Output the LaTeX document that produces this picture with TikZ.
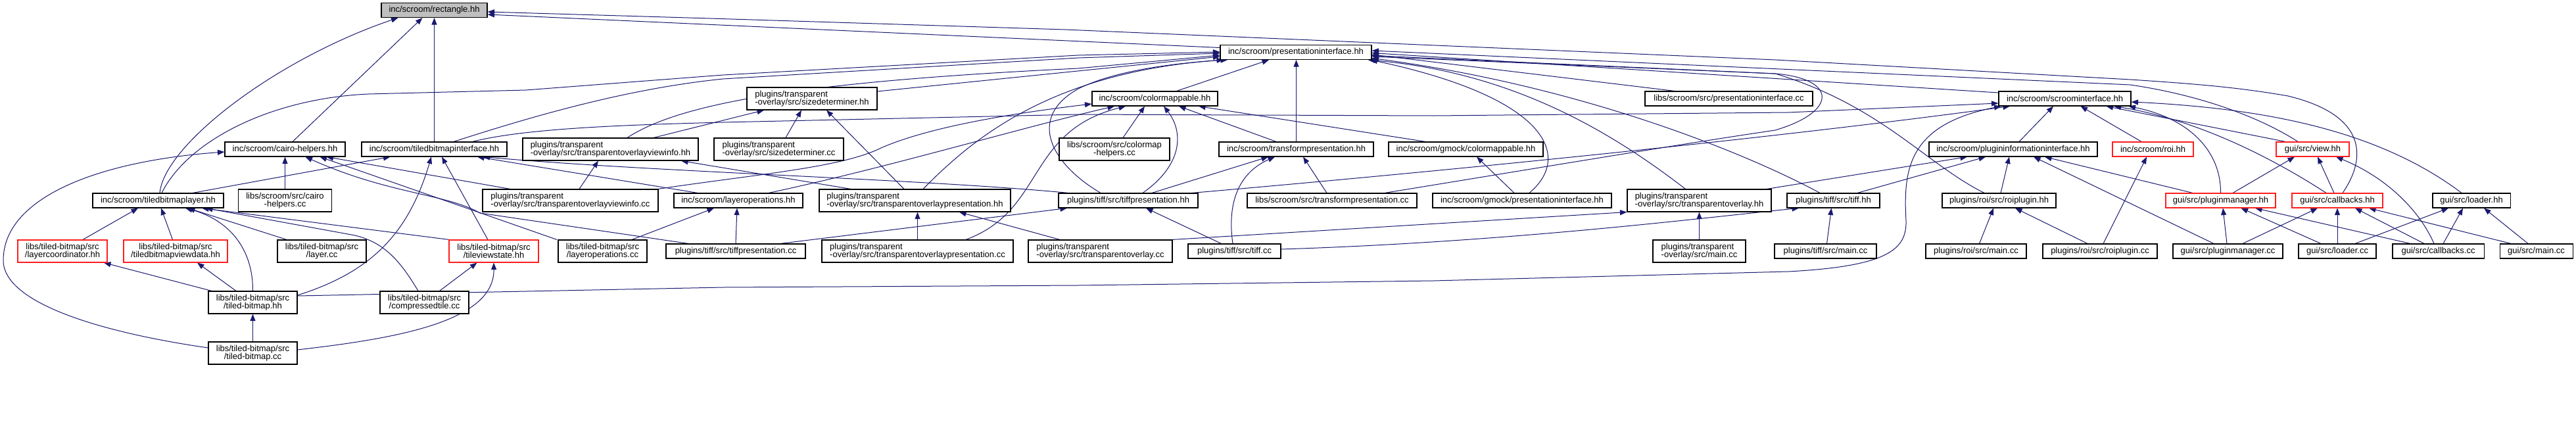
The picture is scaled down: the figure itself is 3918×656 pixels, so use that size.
\documentclass[tikz,border=0pt]{standalone}
\usepackage{fontspec}
\setmainfont{Liberation Sans}
\usetikzlibrary{arrows.meta}
\definecolor{edgeblue}{RGB}{25,25,112}
\definecolor{dred}{RGB}{255,30,30}
\definecolor{rootgray}{RGB}{191,191,191}
\newcommand\dfont{\fontsize{13pt}{12.5pt}\selectfont}
\pgfdeclarelayer{bglayer}
\pgfdeclarelayer{edgelayer}
\pgfsetlayers{bglayer,edgelayer,main}
\tikzset{
  fbox/.style={draw=black, line width=1.1pt, fill=white, inner sep=0pt, font=\dfont, minimum height=22pt, anchor=center},
  fbox2/.style={fbox, minimum height=34pt},
  rbox/.style={draw=dred},
  e/.style={draw=edgeblue, line width=1pt, -{Triangle[length=10.5pt,width=8pt]}},
}
\begin{document}
\begin{tikzpicture}[x=1pt,y=-1pt]
\useasboundingbox (0,0) rectangle (3918,656);
\begin{pgfonlayer}{bglayer}\fill[white] (0,0) rectangle (3918,656);\end{pgfonlayer}
% row 0
\node[fbox, fill=rootgray, minimum width=161pt] (R) at (660.5,15.5) {inc/scroom/rectangle.hh};
% row 1
\node[fbox, minimum width=230pt] (PI) at (1971,79.5) {inc/scroom/presentationinterface.hh};
% row 2
\node[fbox2, minimum width=198pt, align=left] (SD) at (1235,150) {plugins/transparent\\-overlay/src/sizedeterminer.hh};
\node[fbox, minimum width=191pt] (CM) at (1756.5,150) {inc/scroom/colormappable.hh};
\node[fbox, minimum width=255pt] (PIcc) at (2629.5,150) {libs/scroom/src/presentationinterface.cc};
\node[fbox, minimum width=201pt] (SI) at (3140.5,150) {inc/scroom/scroominterface.hh};
% row 3
\node[fbox, minimum width=183pt] (CH) at (433.5,227) {inc/scroom/cairo-helpers.hh};
\node[fbox, minimum width=221pt] (TBI) at (660.5,227) {inc/scroom/tiledbitmapinterface.hh};
\node[fbox2, minimum width=267pt, align=left] (TOVIhh) at (928.5,227) {plugins/transparent\\-overlay/src/transparentoverlayviewinfo.hh};
\node[fbox2, minimum width=197pt, align=left] (SDcc) at (1184.5,227) {plugins/transparent\\-overlay/src/sizedeterminer.cc};
\node[fbox2, minimum width=168pt, align=center] (CMHcc) at (1695,227) {libs/scroom/src/colormap\\-helpers.cc};
\node[fbox, minimum width=235pt] (TP) at (1971.5,227) {inc/scroom/transformpresentation.hh};
\node[fbox, minimum width=235pt] (GCM) at (2229.5,227) {inc/scroom/gmock/colormappable.hh};
\node[fbox, minimum width=256pt] (PII) at (3062,227) {inc/scroom/plugininformationinterface.hh};
\node[fbox, rbox, minimum width=123pt] (ROI) at (3274.5,227) {inc/scroom/roi.hh};
\node[fbox, rbox, minimum width=111pt] (VIEW) at (3517.5,227) {gui/src/view.hh};
% row 4
\node[fbox, minimum width=199pt] (TBL) at (240.5,305) {inc/scroom/tiledbitmaplayer.hh};
\node[fbox2, minimum width=142pt, align=center] (CHcc) at (433.5,305) {libs/scroom/src/cairo\\-helpers.cc};
\node[fbox2, minimum width=267pt, align=left] (TOVIcc) at (867.5,305) {plugins/transparent\\-overlay/src/transparentoverlayviewinfo.cc};
\node[fbox, minimum width=196pt] (LO) at (1123,305) {inc/scroom/layeroperations.hh};
\node[fbox2, minimum width=291pt, align=left] (TOP) at (1391.5,305) {plugins/transparent\\-overlay/src/transparentoverlaypresentation.hh};
\node[fbox, minimum width=212pt] (TIFFP) at (1716,305) {plugins/tiff/src/tiffpresentation.hh};
\node[fbox, minimum width=258pt] (TPcc) at (2026,305) {libs/scroom/src/transformpresentation.cc};
\node[fbox, minimum width=272pt] (GPI) at (2315,305) {inc/scroom/gmock/presentationinterface.hh};
\node[fbox2, minimum width=219pt, align=left] (TO) at (2584.5,305) {plugins/transparent\\-overlay/src/transparentoverlay.hh};
\node[fbox, minimum width=141pt] (TIFF) at (2788.5,305) {plugins/tiff/src/tiff.hh};
\node[fbox, minimum width=173pt] (ROIP) at (3040.5,305) {plugins/roi/src/roiplugin.hh};
\node[fbox, rbox, minimum width=167pt] (PM) at (3377.5,305) {gui/src/pluginmanager.hh};
\node[fbox, rbox, minimum width=138pt] (CB) at (3555,305) {gui/src/callbacks.hh};
\node[fbox, minimum width=118pt] (LD) at (3759,305) {gui/src/loader.hh};
% row 5
\node[fbox2, rbox, minimum width=136pt, align=center] (LC) at (95,382) {libs/tiled-bitmap/src\\/layercoordinator.hh};
\node[fbox2, rbox, minimum width=158pt, align=center] (TBVD) at (267,382) {libs/tiled-bitmap/src\\/tiledbitmapviewdata.hh};
\node[fbox2, minimum width=135pt, align=center] (LAYcc) at (489.5,382) {libs/tiled-bitmap/src\\/layer.cc};
\node[fbox2, rbox, minimum width=136pt, align=center] (TVS) at (751,382) {libs/tiled-bitmap/src\\/tileviewstate.hh};
\node[fbox2, minimum width=135pt, align=center] (LOcc) at (916.5,382) {libs/tiled-bitmap/src\\/layeroperations.cc};
\node[fbox, minimum width=212pt] (TIFFPcc) at (1119,382) {plugins/tiff/src/tiffpresentation.cc};
\node[fbox2, minimum width=291pt, align=left] (TOPcc) at (1395.5,382) {plugins/transparent\\-overlay/src/transparentoverlaypresentation.cc};
\node[fbox2, minimum width=219pt, align=left] (TOcc) at (1673.5,382) {plugins/transparent\\-overlay/src/transparentoverlay.cc};
\node[fbox, minimum width=141pt] (TIFFcc) at (1877.5,382) {plugins/tiff/src/tiff.cc};
\node[fbox2, minimum width=141pt, align=left] (TOmain) at (2584.5,382) {plugins/transparent\\-overlay/src/main.cc};
\node[fbox, minimum width=155pt] (TIFFmain) at (2776.5,382) {plugins/tiff/src/main.cc};
\node[fbox, minimum width=153pt] (ROImain) at (3005.5,382) {plugins/roi/src/main.cc};
\node[fbox, minimum width=174pt] (ROIPcc) at (3194,382) {plugins/roi/src/roiplugin.cc};
\node[fbox, minimum width=167pt] (PMcc) at (3388.5,382) {gui/src/pluginmanager.cc};
\node[fbox, minimum width=118pt] (LDcc) at (3555,382) {gui/src/loader.cc};
\node[fbox, minimum width=139pt] (CBcc) at (3708.5,382) {gui/src/callbacks.cc};
\node[fbox, minimum width=111pt] (GMAIN) at (3857.5,382) {gui/src/main.cc};
% row 6, 7
\node[fbox2, minimum width=135pt, align=center] (TBhh) at (384.5,460) {libs/tiled-bitmap/src\\/tiled-bitmap.hh};
\node[fbox2, minimum width=135pt, align=center] (CTcc) at (645.5,460) {libs/tiled-bitmap/src\\/compressedtile.cc};
\node[fbox2, minimum width=135pt, align=center] (TBcc) at (384.5,537) {libs/tiled-bitmap/src\\/tiled-bitmap.cc};

\begin{pgfonlayer}{edgelayer}
% to rectangle.hh
\draw[e] ([xshift=2.5pt]TBL.north) .. controls (250,220) and (420,90) .. ([xshift=-55pt]R.south);
\draw[e] ([xshift=11.5pt]CH.north) -- ([xshift=-18pt]R.south);
\draw[e] (TBI.north) -- (R.south);
\draw[e] ([yshift=7pt]PI.west) -- ([yshift=-6.5pt]R.east);
\draw[e] ([xshift=8pt]CB.north) .. controls (3600,240) and (3600,175) .. (3480,146) .. controls (3400,132) and (3330,127) .. (3240,121) -- (2700,91) -- (2160,68) -- (1620,45) -- (1080,28) -- ([yshift=-2.5pt]R.east);
% to presentationinterface.hh
\draw[e] ([xshift=5.5pt]TBL.north) .. controls (285,215) and (410,150) .. (560,143) -- (800,137) -- (1100,114) -- (1640,84) -- ([yshift=0.5pt]PI.west);
\draw[e] ([xshift=29.5pt]TBI.north) .. controls (800,180) and (950,135) .. (1100,120) -- (1640,88) -- ([yshift=-1.5pt]PI.west);
\draw[e] ([xshift=25.5pt]TOVIhh.north) .. controls (1030,160) and (1200,125) .. (1640,104) -- ([yshift=-4.5pt]PI.west);
\draw[e] ([yshift=11pt]SD.east) -- ([yshift=-6.5pt]PI.west);
\draw[e] ([xshift=12.5pt]TOP.north) .. controls (1480,210) and (1600,110) .. ([xshift=-110pt]PI.south);
\draw[e] ([xshift=-42pt]TIFFP.north) .. controls (1600,250) and (1560,180) .. (1640,135) .. controls (1700,105) and (1800,95) .. ([xshift=-104pt]PI.south);
\draw[e] ([xshift=33pt]CM.north) -- ([xshift=-41pt]PI.south);
\draw[e] (TP.north) -- (TP.north |- PI.south);
\draw[e] ([xshift=-22.5pt]VIEW.north) .. controls (3440,180) and (3350,145) .. (3240,129) -- ([yshift=2.5pt]PI.east);
\draw[e] ([yshift=9pt]SI.west) -- ([yshift=-1pt]PI.east);
\draw[e] ([xshift=-82.5pt]PIcc.north) -- ([yshift=-3.5pt]PI.east);
\draw[e] ([xshift=-22.5pt]ROIP.north) .. controls (2930,250) and (2860,160) .. (2700,112) -- ([yshift=-6.5pt]PI.east);
\draw[e] ([xshift=80pt]TPcc.north) .. controls (2300,262) and (2550,220) .. (2700,198) .. controls (2795,170) and (2795,120) .. (2700,112) -- ([yshift=-5pt]PI.east);
\draw[e] ([xshift=11pt]GPI.north) .. controls (2390,240) and (2360,150) .. ([xshift=-2pt]PI.south east);
\draw[e] ([xshift=-21pt]TO.north) .. controls (2450,200) and (2300,110) .. ([xshift=-6pt]PI.south east);
\draw[e] ([xshift=-20.5pt]TIFF.north) .. controls (2650,230) and (2400,130) .. ([yshift=-9pt]PI.east);
% to scroominterface.hh
\draw[e] ([xshift=58pt]TBI.north) .. controls (800,195) and (950,190) .. (1100,186) -- (1640,174) -- (2180,176) -- (2720,171) -- ([yshift=-7pt]SI.west);
\draw[e] ([yshift=10pt]TBhh.east) -- (1100,437) -- (1640,434) -- (2180,427) -- (2720,413) .. controls (2870,405) and (2900,380) .. (2899,336) .. controls (2895,260) and (2900,190) .. ([xshift=4pt]SI.south west);
\draw[e] ([xshift=97pt]TIFFP.north) .. controls (2200,260) and (2700,210) .. ([xshift=-83.5pt]SI.south);
\draw[e] ([xshift=9pt]PII.north) -- ([xshift=-17.5pt]SI.south);
\draw[e] ([xshift=-17.5pt]ROI.north) -- ([xshift=24pt]SI.south);
\draw[e] ([xshift=-41.5pt]VIEW.north) -- ([xshift=63pt]SI.south);
\draw[e] ([xshift=-17pt]CB.north) .. controls (3440,230) and (3330,180) .. ([xshift=75pt]SI.south);
\draw[e] (PM.north) .. controls (3378,230) and (3330,180) .. ([xshift=-4pt]SI.south east);
\draw[e] ([xshift=-15pt]LD.north) .. controls (3620,200) and (3450,165) .. ([yshift=-5pt]SI.east);
% to plugininformationinterface.hh
\draw[e] ([xshift=102.5pt]TO.north) -- ([xshift=-70pt]PII.south);
\draw[e] ([xshift=36.5pt]TIFF.north) -- ([xshift=-42pt]PII.south);
\draw[e] ([xshift=2.5pt]ROIP.north) -- ([xshift=-6pt]PII.south);
\draw[e] ([xshift=-21.5pt]PMcc.north) -- ([xshift=31pt]PII.south);
\draw[e] ([xshift=-42.5pt]PM.north) -- ([xshift=48pt]PII.south);
% roi.hh, view.hh
\draw[e] ([xshift=5pt]ROIPcc.north) -- ([xshift=-9.5pt]ROI.south);
\draw[e] ([xshift=18.5pt]PM.north) -- ([xshift=-27.5pt]VIEW.south);
\draw[e] ([xshift=-5pt]CB.north) -- ([xshift=7.5pt]VIEW.south);
\draw[e] ([xshift=-6.5pt]CBcc.north) .. controls (3680,320) and (3630,270) .. ([xshift=35.5pt]VIEW.south);
% to colormappable.hh
\draw[e] ([xshift=133.5pt]TOVIcc.north) .. controls (1150,265) and (1280,255) .. (1340,225) .. controls (1420,190) and (1560,170) .. ([yshift=-8pt]CM.west);
\draw[e] ([xshift=46pt]LO.north) .. controls (1350,255) and (1550,195) .. ([xshift=-61.5pt]CM.south);
\draw[e] ([xshift=73.5pt]TOPcc.north) .. controls (1590,320) and (1560,200) .. ([xshift=-44.5pt]CM.south);
\draw[e] ([xshift=13pt]CMHcc.north) -- ([xshift=-15.5pt]CM.south);
\draw[e] ([xshift=22pt]TIFFP.north) .. controls (1800,250) and (1800,200) .. ([xshift=13.5pt]CM.south);
\draw[e] ([xshift=-30.5pt]TP.north) -- ([xshift=36.5pt]CM.south);
\draw[e] ([xshift=-61.5pt]GCM.north) -- ([xshift=66.5pt]CM.south);
% to sizedeterminer.hh
\draw[e] ([xshift=65.5pt]TOVIhh.north) -- ([xshift=-73pt]SD.south);
\draw[e] ([xshift=10.5pt]SDcc.north) -- ([xshift=-16pt]SD.south);
\draw[e] ([xshift=-16.5pt]TOP.north) -- ([xshift=22pt]SD.south);
% to transformpresentation.hh
\draw[e] ([xshift=36pt]TIFFP.north) -- ([xshift=-42.5pt]TP.south);
\draw[e] ([xshift=-2.5pt]TIFFcc.north) .. controls (1865,300) and (1890,260) .. ([xshift=-32.5pt]TP.south);
\draw[e] ([xshift=-8pt]TPcc.north) -- ([xshift=10.5pt]TP.south);
\draw[e] ([xshift=-12pt]GPI.north) -- ([xshift=16.5pt]GCM.south);
% to cairo-helpers.hh
\draw[e] ([yshift=8pt]TBcc.west) .. controls (150,505) and (5,460) .. (5,396) .. controls (5,300) and (150,245) .. ([yshift=-4pt]CH.west);
\draw[e] (CHcc.north) -- (CH.south);
\draw[e] ([xshift=-91.5pt]TOVIcc.north) -- ([xshift=63pt]CH.south);
\draw[e] ([xshift=-69.5pt]LOcc.north) -- ([xshift=53pt]CH.south);
\draw[e] ([xshift=-72pt]TIFFPcc.north) -- (730,324) .. controls (680,295) and (590,295) .. ([xshift=31pt]CH.south);
% to tiledbitmapinterface.hh
\draw[e] ([xshift=52.5pt]TBL.north) -- ([xshift=-67pt]TBI.south);
\draw[e] ([yshift=11pt]TBhh.east) .. controls (560,415) and (620,360) .. ([xshift=-4.5pt]TBI.south);
\draw[e] ([xshift=-9pt]TVS.north) -- ([xshift=11.5pt]TBI.south);
\draw[e] ([xshift=-62pt]LO.north) -- ([xshift=65.5pt]TBI.south);
\draw[e] ([xshift=-91pt]TIFFP.north) .. controls (1400,272) and (1000,262) .. ([xshift=74pt]TBI.south);
% to transparentoverlayviewinfo.hh
\draw[e] ([xshift=13.5pt]TOVIcc.north) -- ([xshift=-18.5pt]TOVIhh.south);
\draw[e] ([xshift=-97.5pt]TOP.north) -- ([xshift=107.5pt]TOVIhh.south);
% to tiledbitmaplayer.hh
\draw[e] ([xshift=31pt]LC.north) -- ([xshift=-30.5pt]TBL.south);
\draw[e] ([xshift=-4.5pt]TBVD.north) -- ([xshift=4.5pt]TBL.south);
\draw[e] (TBhh.north) .. controls (385,380) and (350,335) .. ([xshift=41.5pt]TBL.south);
\draw[e] ([xshift=-53.5pt]LAYcc.north) -- ([xshift=45.5pt]TBL.south);
\draw[e] ([xshift=-68pt]TVS.north) -- ([xshift=66.5pt]TBL.south);
\draw[e] ([xshift=-9.5pt]CTcc.north) .. controls (605,390) and (580,368) .. (540,358) -- ([xshift=72.5pt]TBL.south);
% layeroperations.hh, transparentoverlaypresentation.hh, tiffpresentation.hh
\draw[e] ([xshift=44.5pt]LOcc.north) -- ([xshift=-37pt]LO.south);
\draw[e] (TIFFPcc.north) -- ([xshift=-2pt]LO.south);
\draw[e] (TOPcc.north) -- (TOPcc.north |- TOP.south);
\draw[e] ([xshift=-61.5pt]TOcc.north) -- ([xshift=67.5pt]TOP.south);
\draw[e] ([xshift=68pt]TIFFPcc.north) -- ([xshift=-93pt]TIFFP.south);
\draw[e] ([xshift=-20pt]TIFFcc.north) -- ([xshift=27pt]TIFFP.south);
% transparentoverlay.hh, tiff.hh, roiplugin.hh
\draw[e] ([xshift=109.5pt]TOcc.north) -- (TO.south west);
\draw[e] (TOmain.north) -- (TO.south);
\draw[e] ([yshift=3pt]TIFFcc.east) .. controls (2300,368) and (2600,330) .. ([xshift=-52.5pt]TIFF.south);
\draw[e] ([xshift=2pt]TIFFmain.north) -- ([xshift=-3pt]TIFF.south);
\draw[e] ([xshift=5pt]ROImain.north) -- ([xshift=-8.5pt]ROIP.south);
\draw[e] ([xshift=-19pt]ROIPcc.north) -- ([xshift=24.5pt]ROIP.south);
% gui headers
\draw[e] ([xshift=-1.5pt]PMcc.north) -- ([xshift=3.5pt]PM.south);
\draw[e] ([xshift=-25pt]LDcc.north) -- ([xshift=31pt]PM.south);
\draw[e] ([xshift=-42.5pt]CBcc.north) -- ([xshift=52.5pt]PM.south);
\draw[e] ([xshift=22.5pt]PMcc.north) -- ([xshift=-30pt]CB.south);
\draw[e] (LDcc.north) -- (CB.south);
\draw[e] ([xshift=-21.5pt]CBcc.north) -- ([xshift=27pt]CB.south);
\draw[e] ([xshift=-38.5pt]GMAIN.north) -- ([xshift=48pt]CB.south);
\draw[e] ([xshift=27pt]LDcc.north) -- ([xshift=-35pt]LD.south);
\draw[e] ([xshift=7.5pt]CBcc.north) -- ([xshift=-13pt]LD.south);
\draw[e] ([xshift=-12.5pt]GMAIN.north) -- ([xshift=19pt]LD.south);
% tiled-bitmap internals
\draw[e] ([xshift=-62.5pt]TBhh.north) -- ([xshift=63pt]LC.south);
\draw[e] ([xshift=-25.5pt]TBhh.north) -- ([xshift=33pt]TBVD.south);
\draw[e] ([xshift=23pt]CTcc.north) -- ([xshift=-25.5pt]TVS.south);
\draw[e] ([yshift=5pt]TBcc.east) .. controls (600,515) and (752,490) .. (TVS.south);
\draw[e] (TBcc.north) -- (TBhh.south);
\end{pgfonlayer}
\end{tikzpicture}
\end{document}
